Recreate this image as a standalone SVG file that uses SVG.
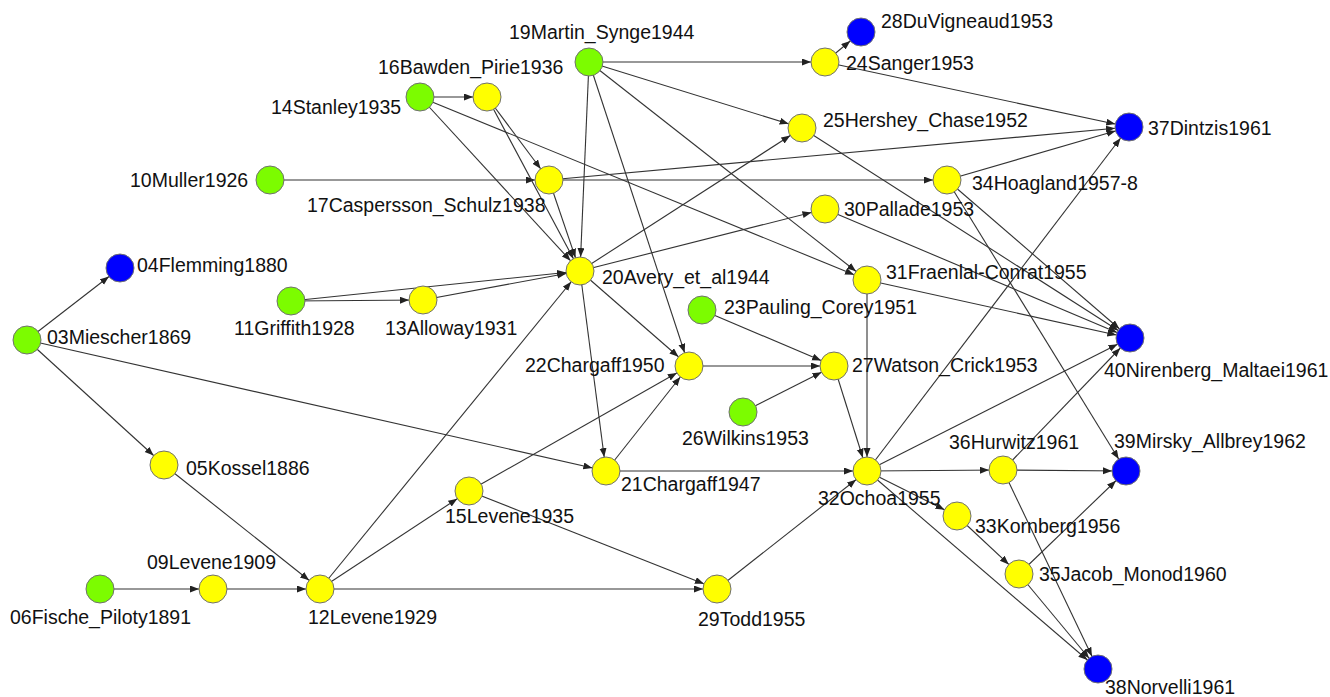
<svg xmlns="http://www.w3.org/2000/svg" width="1330" height="697" viewBox="0 0 1330 697">
<defs>
<style>
.e{stroke:#333;stroke-width:1.1;fill:none;marker-end:url(#arr)}
.n{stroke:#707070;stroke-width:1}
.g{fill:#7CFC00}
.y{fill:#FFFF00}
.b{fill:#0000FF}
text{font-family:"Liberation Sans",Arial,sans-serif;font-size:19.5px;fill:#111}
</style>
<marker id="arr" markerUnits="userSpaceOnUse" viewBox="0 0 30 10" markerWidth="30" markerHeight="10" refX="23" refY="3.5" orient="auto">
<path d="M0,0 L9,3.5 L0,7 z" fill="#222"/>
</marker>
</defs>
<rect width="1330" height="697" fill="#fff"/>
<g id="connectors">
<line class="e" x1="27" y1="340" x2="120" y2="268"/>
<line class="e" x1="27" y1="340" x2="164" y2="465"/>
<line class="e" x1="27" y1="340" x2="606" y2="471"/>
<line class="e" x1="164" y1="465" x2="320" y2="589"/>
<line class="e" x1="100" y1="589" x2="213" y2="589"/>
<line class="e" x1="213" y1="589" x2="320" y2="589"/>
<line class="e" x1="320" y1="589" x2="469" y2="491"/>
<line class="e" x1="320" y1="589" x2="580" y2="271"/>
<line class="e" x1="320" y1="589" x2="717" y2="589"/>
<line class="e" x1="469" y1="491" x2="689" y2="366"/>
<line class="e" x1="469" y1="491" x2="717" y2="589"/>
<line class="e" x1="270" y1="180" x2="549" y2="180"/>
<line class="e" x1="291" y1="301" x2="423" y2="300"/>
<line class="e" x1="291" y1="301" x2="580" y2="271"/>
<line class="e" x1="423" y1="300" x2="580" y2="271"/>
<line class="e" x1="420" y1="97" x2="487" y2="97"/>
<line class="e" x1="420" y1="97" x2="580" y2="271"/>
<line class="e" x1="420" y1="97" x2="867" y2="280"/>
<line class="e" x1="487" y1="97" x2="549" y2="180"/>
<line class="e" x1="487" y1="97" x2="580" y2="271"/>
<line class="e" x1="549" y1="180" x2="580" y2="271"/>
<line class="e" x1="549" y1="180" x2="947" y2="180"/>
<line class="e" x1="549" y1="180" x2="1129" y2="127"/>
<line class="e" x1="589" y1="62" x2="580" y2="271"/>
<line class="e" x1="589" y1="62" x2="689" y2="366"/>
<line class="e" x1="589" y1="62" x2="825" y2="62"/>
<line class="e" x1="589" y1="62" x2="802" y2="128"/>
<line class="e" x1="589" y1="62" x2="867" y2="280"/>
<line class="e" x1="580" y1="271" x2="606" y2="471"/>
<line class="e" x1="580" y1="271" x2="689" y2="366"/>
<line class="e" x1="580" y1="271" x2="802" y2="128"/>
<line class="e" x1="580" y1="271" x2="825" y2="209"/>
<line class="e" x1="606" y1="471" x2="689" y2="366"/>
<line class="e" x1="606" y1="471" x2="867" y2="471"/>
<line class="e" x1="689" y1="366" x2="834" y2="366"/>
<line class="e" x1="702" y1="310" x2="834" y2="366"/>
<line class="e" x1="743" y1="412" x2="834" y2="366"/>
<line class="e" x1="825" y1="62" x2="861" y2="32"/>
<line class="e" x1="825" y1="62" x2="1129" y2="127"/>
<line class="e" x1="802" y1="128" x2="1130" y2="338"/>
<line class="e" x1="834" y1="366" x2="867" y2="471"/>
<line class="e" x1="717" y1="589" x2="867" y2="471"/>
<line class="e" x1="825" y1="209" x2="1130" y2="338"/>
<line class="e" x1="867" y1="280" x2="867" y2="471"/>
<line class="e" x1="867" y1="280" x2="1130" y2="338"/>
<line class="e" x1="867" y1="471" x2="957" y2="516"/>
<line class="e" x1="867" y1="471" x2="1003" y2="470"/>
<line class="e" x1="867" y1="471" x2="1129" y2="127"/>
<line class="e" x1="867" y1="471" x2="1098" y2="669"/>
<line class="e" x1="867" y1="471" x2="1130" y2="338"/>
<line class="e" x1="957" y1="516" x2="1019" y2="574"/>
<line class="e" x1="947" y1="180" x2="1129" y2="127"/>
<line class="e" x1="947" y1="180" x2="1126" y2="471"/>
<line class="e" x1="947" y1="180" x2="1130" y2="338"/>
<line class="e" x1="1019" y1="574" x2="1098" y2="669"/>
<line class="e" x1="1019" y1="574" x2="1126" y2="471"/>
<line class="e" x1="1003" y1="470" x2="1098" y2="669"/>
<line class="e" x1="1003" y1="470" x2="1126" y2="471"/>
<line class="e" x1="1003" y1="470" x2="1130" y2="338"/>
</g>
<g id="n03"><circle class="n g" cx="27" cy="340" r="14"/><text x="47" y="344">03Miescher1869</text></g>
<g id="n04"><circle class="n b" cx="120" cy="268" r="14"/><text x="137" y="272">04Flemming1880</text></g>
<g id="n05"><circle class="n y" cx="164" cy="465" r="14"/><text x="186" y="475">05Kossel1886</text></g>
<g id="n06"><circle class="n g" cx="100" cy="589" r="14"/><text x="10" y="624">06Fische_Piloty1891</text></g>
<g id="n09"><circle class="n y" cx="213" cy="589" r="14"/><text x="147" y="569">09Levene1909</text></g>
<g id="n10"><circle class="n g" cx="270" cy="180" r="14"/><text x="130" y="187">10Muller1926</text></g>
<g id="n11"><circle class="n g" cx="291" cy="301" r="14"/><text x="234" y="335">11Griffith1928</text></g>
<g id="n12"><circle class="n y" cx="320" cy="589" r="14"/><text x="308" y="624">12Levene1929</text></g>
<g id="n13"><circle class="n y" cx="423" cy="300" r="14"/><text x="385" y="335">13Alloway1931</text></g>
<g id="n14"><circle class="n g" cx="420" cy="97" r="14"/><text x="271" y="114">14Stanley1935</text></g>
<g id="n15"><circle class="n y" cx="469" cy="491" r="14"/><text x="445" y="523">15Levene1935</text></g>
<g id="n16"><circle class="n y" cx="487" cy="97" r="14"/><text x="378" y="74">16Bawden_Pirie1936</text></g>
<g id="n17"><circle class="n y" cx="549" cy="180" r="14"/><text x="307" y="212">17Caspersson_Schulz1938</text></g>
<g id="n19"><circle class="n g" cx="589" cy="62" r="14"/><text x="509" y="39">19Martin_Synge1944</text></g>
<g id="n20"><circle class="n y" cx="580" cy="271" r="14"/><text x="602" y="284">20Avery_et_al1944</text></g>
<g id="n21"><circle class="n y" cx="606" cy="471" r="14"/><text x="621" y="491">21Chargaff1947</text></g>
<g id="n22"><circle class="n y" cx="689" cy="366" r="14"/><text x="525" y="372">22Chargaff1950</text></g>
<g id="n23"><circle class="n g" cx="702" cy="310" r="14"/><text x="724" y="314">23Pauling_Corey1951</text></g>
<g id="n24"><circle class="n y" cx="825" cy="62" r="14"/><text x="846" y="70">24Sanger1953</text></g>
<g id="n25"><circle class="n y" cx="802" cy="128" r="14"/><text x="823" y="127">25Hershey_Chase1952</text></g>
<g id="n26"><circle class="n g" cx="743" cy="412" r="14"/><text x="682" y="445">26Wilkins1953</text></g>
<g id="n27"><circle class="n y" cx="834" cy="366" r="14"/><text x="852" y="372">27Watson_Crick1953</text></g>
<g id="n28"><circle class="n b" cx="861" cy="32" r="14"/><text x="881" y="28">28DuVigneaud1953</text></g>
<g id="n29"><circle class="n y" cx="717" cy="589" r="14"/><text x="698" y="626">29Todd1955</text></g>
<g id="n30"><circle class="n y" cx="825" cy="209" r="14"/><text x="844" y="216">30Pallade1953</text></g>
<g id="n31"><circle class="n y" cx="867" cy="280" r="14"/><text x="886" y="279">31Fraenlal-Conrat1955</text></g>
<g id="n32"><circle class="n y" cx="867" cy="471" r="14"/><text x="818" y="505">32Ochoa1955</text></g>
<g id="n33"><circle class="n y" cx="957" cy="516" r="14"/><text x="975" y="533">33Kornberg1956</text></g>
<g id="n34"><circle class="n y" cx="947" cy="180" r="14"/><text x="972" y="190">34Hoagland1957-8</text></g>
<g id="n35"><circle class="n y" cx="1019" cy="574" r="14"/><text x="1039" y="581">35Jacob_Monod1960</text></g>
<g id="n36"><circle class="n y" cx="1003" cy="470" r="14"/><text x="949" y="449">36Hurwitz1961</text></g>
<g id="n37"><circle class="n b" cx="1129" cy="127" r="14"/><text x="1148" y="135">37Dintzis1961</text></g>
<g id="n38"><circle class="n b" cx="1098" cy="669" r="14"/><text x="1105" y="694">38Norvelli1961</text></g>
<g id="n39"><circle class="n b" cx="1126" cy="471" r="14"/><text x="1114" y="448">39Mirsky_Allbrey1962</text></g>
<g id="n40"><circle class="n b" cx="1130" cy="338" r="14"/><text x="1104" y="377">40Nirenberg_Maltaei1961</text></g>
</svg>
